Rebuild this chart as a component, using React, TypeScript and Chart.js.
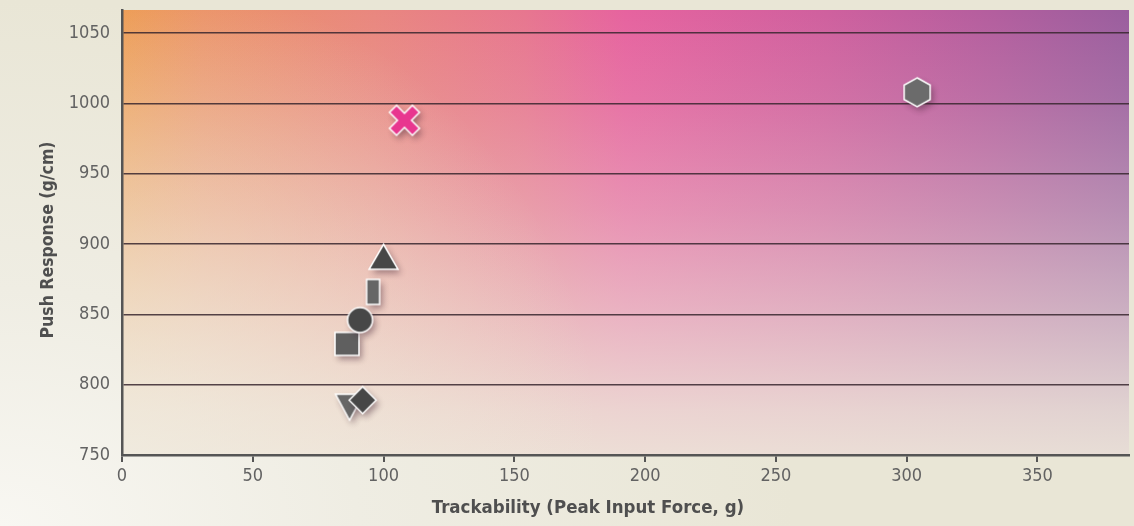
import React, { useEffect, useRef } from "react";
import { Chart, registerables } from "chart.js";

Chart.register(...registerables);

// data
const products = ["A", "B", "C", "D", "E", "F", "G", "H"];
const trackability = [304, 108, 100, 96, 86, 91, 87, 92];
const pushResponse = [1008, 988, 891, 866, 829, 846, 784, 789];

const X_MIN = 0;
const X_MAX = 385;
const X_STEP = 50;
const Y_MIN = 750;
const Y_MAX = 1066.5;
const Y_STEP = 50;

const X_TITLE = "Trackability (Peak Input Force, g)";
const Y_TITLE = "Push Response (g/cm)";

const FONT = "'Liberation Sans Narrow', 'DejaVu Sans Condensed', 'Roboto Condensed', 'Liberation Sans', sans-serif";

// marker looks, one per product (same order)
const markerStyles = [
  { shape: "hexagon", fill: "#6b6b6b", w: 26, h: 29 },
  { shape: "cross", fill: "#e8368f", w: 30, h: 30 },
  { shape: "triangle", fill: "#474747", w: 29, h: 25 },
  { shape: "bar", fill: "#666666", w: 13, h: 25 },
  { shape: "square", fill: "#5f5f5f", w: 24, h: 23 },
  { shape: "circle", fill: "#474747", w: 25, h: 25 },
  { shape: "triangleDown", fill: "#666666", w: 28, h: 26 },
  { shape: "diamond", fill: "#474747", w: 27, h: 27 },
];

function makeMarker(shape: string, fill: string, w: number, h: number) {
  const pad = 14;
  const c = document.createElement("canvas");
  c.width = w + pad * 2;
  c.height = h + pad * 2;
  const ctx = c.getContext("2d")!;
  ctx.translate(c.width / 2, c.height / 2);
  ctx.beginPath();
  switch (shape) {
    case "hexagon":
      ctx.moveTo(0, -h / 2);
      ctx.lineTo(w / 2, -h / 4);
      ctx.lineTo(w / 2, h / 4);
      ctx.lineTo(0, h / 2);
      ctx.lineTo(-w / 2, h / 4);
      ctx.lineTo(-w / 2, -h / 4);
      break;
    case "cross": {
      const a = 5;
      const L = w / Math.SQRT2 - a;
      ctx.rotate(Math.PI / 4);
      const pts = [
        [a, -L], [a, -a], [L, -a], [L, a], [a, a], [a, L],
        [-a, L], [-a, a], [-L, a], [-L, -a], [-a, -a], [-a, -L],
      ];
      pts.forEach(([px, py], i) => (i ? ctx.lineTo(px, py) : ctx.moveTo(px, py)));
      break;
    }
    case "triangle":
      ctx.moveTo(0, -h / 2);
      ctx.lineTo(w / 2, h / 2);
      ctx.lineTo(-w / 2, h / 2);
      break;
    case "triangleDown":
      ctx.moveTo(-w / 2, -h / 2);
      ctx.lineTo(w / 2, -h / 2);
      ctx.lineTo(0, h / 2);
      break;
    case "diamond":
      ctx.moveTo(0, -h / 2);
      ctx.lineTo(w / 2, 0);
      ctx.lineTo(0, h / 2);
      ctx.lineTo(-w / 2, 0);
      break;
    case "circle":
      ctx.arc(0, 0, w / 2, 0, Math.PI * 2);
      break;
    default:
      ctx.rect(-w / 2, -h / 2, w, h);
  }
  ctx.closePath();
  ctx.save();
  ctx.shadowColor = "rgba(70,40,55,0.45)";
  ctx.shadowBlur = 6;
  ctx.shadowOffsetX = 3;
  ctx.shadowOffsetY = 4;
  ctx.fillStyle = fill;
  ctx.fill();
  ctx.restore();
  ctx.lineWidth = 1.5;
  ctx.strokeStyle = "#ffffff";
  ctx.stroke();
  return c;
}

const plotBackground = {
  id: "plotBackground",
  beforeDraw(chart: Chart) {
    const { ctx, chartArea: a } = chart;
    if (!a) return;
    ctx.save();
    const hg = ctx.createLinearGradient(a.left, a.top, a.right, a.top);
    hg.addColorStop(0, "#ed9a50");
    hg.addColorStop(0.08, "#eb9266");
    hg.addColorStop(0.25, "#e9877f");
    hg.addColorStop(0.4, "#e7768f");
    hg.addColorStop(0.5, "#e6639f");
    hg.addColorStop(0.7, "#cf609e");
    hg.addColorStop(0.85, "#b65e9e");
    hg.addColorStop(1, "#9a5e9e");
    ctx.fillStyle = hg;
    ctx.fillRect(a.left, a.top, a.width, a.height);
    const vg = ctx.createLinearGradient(0, a.top, 0, a.bottom);
    vg.addColorStop(0, "rgba(237,231,218,0)");
    vg.addColorStop(0.2, "rgba(237,231,218,0.12)");
    vg.addColorStop(0.45, "rgba(237,231,218,0.35)");
    vg.addColorStop(0.7, "rgba(237,231,218,0.62)");
    vg.addColorStop(0.9, "rgba(237,231,218,0.85)");
    vg.addColorStop(1, "rgba(237,231,218,0.93)");
    ctx.fillStyle = vg;
    ctx.fillRect(a.left, a.top, a.width, a.height);
    const rg = ctx.createRadialGradient(a.left, a.bottom, 0, a.left, a.bottom, 480);
    rg.addColorStop(0, "rgba(241,238,228,0.7)");
    rg.addColorStop(1, "rgba(241,238,228,0)");
    ctx.fillStyle = rg;
    ctx.fillRect(a.left, a.top, a.width, a.height);
    ctx.restore();
  },
};

// axis titles, placed where the reference has them
const axisTitles = {
  id: "axisTitles",
  afterDraw(chart: Chart) {
    const { ctx } = chart;
    ctx.save();
    ctx.fillStyle = "#4f4f4f";
    ctx.textAlign = "center";
    ctx.textBaseline = "middle";
    ctx.font = `bold 18.5px ${FONT}`;
    ctx.fillText(X_TITLE, 588, 508);
    ctx.translate(48, 240);
    ctx.rotate(-Math.PI / 2);
    ctx.font = `bold 17.5px ${FONT}`;
    ctx.fillText(Y_TITLE, 0, 0);
    ctx.restore();
  },
};

const noPadding = (s: any) => {
  s.paddingTop = 0;
  s.paddingBottom = 0;
  s.paddingLeft = 0;
  s.paddingRight = 0;
};

const App: React.FC = () => {
  const canvasRef = useRef<HTMLCanvasElement | null>(null);

  useEffect(() => {
    const ctx = canvasRef.current?.getContext("2d");
    if (!ctx) return;

    const markers = markerStyles.map((m) => makeMarker(m.shape, m.fill, m.w, m.h));

    const chart = new Chart(ctx, {
      type: "scatter",
      data: {
        labels: products,
        datasets: [
          {
            data: trackability.map((x, i) => ({ x, y: pushResponse[i] })),
            pointStyle: markers as any,
            pointRadius: 12,
          },
        ],
      },
      options: {
        animation: false,
        responsive: true,
        maintainAspectRatio: false,
        events: [],
        layout: { autoPadding: false, padding: { top: 10, right: 5, left: 0, bottom: 0 } },
        plugins: { legend: { display: false }, tooltip: { enabled: false } },
        scales: {
          x: {
            type: "linear",
            min: X_MIN,
            max: X_MAX,
            afterFit: (s: any) => {
              s.height = 71;
              noPadding(s);
            },
            ticks: {
              stepSize: X_STEP,
              includeBounds: false,
              color: "#626262",
              padding: 4,
              font: { family: FONT, size: 18 },
            },
            grid: { drawOnChartArea: false, drawTicks: true, tickLength: 7, color: "#555555", lineWidth: 2 },
            border: { color: "#555555", width: 2.5 },
          },
          y: {
            min: Y_MIN,
            max: Y_MAX,
            afterFit: (s: any) => {
              s.width = 122;
              noPadding(s);
            },
            ticks: {
              stepSize: Y_STEP,
              includeBounds: false,
              color: "#626262",
              padding: 12,
              font: { family: FONT, size: 18 },
              callback: (v: any) => String(v),
            },
            grid: { color: "rgba(55,38,46,0.85)", lineWidth: 1.5, drawTicks: false },
            border: { color: "#555555", width: 2.5 },
          },
        },
      },
      plugins: [plotBackground, axisTitles],
    });

    return () => chart.destroy();
  }, []);

  return (
    <div
      style={{
        position: "absolute",
        left: 0,
        top: 0,
        width: 1134,
        height: 526,
        background:
          "radial-gradient(ellipse 70% 100% at 0% 100%, #f8f7f2 0%, #efede3 45%, #e9e6d6 100%)",
      }}
    >
      <canvas ref={canvasRef}></canvas>
    </div>
  );
};

export default App;
